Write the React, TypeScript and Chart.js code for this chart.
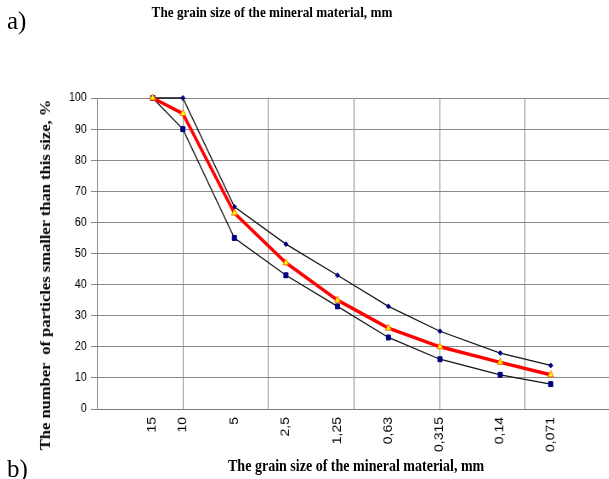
import React, { useEffect, useRef } from "react";
import { Chart, registerables } from "chart.js";

Chart.register(...registerables);

// ---- data ----
const sizes = [15, 10, 5, 2.5, 1.25, 0.63, 0.315, 0.14, 0.071];
const sizeLabels = ["15", "10", "5", "2,5", "1,25", "0,63", "0,315", "0,14", "0,071"];
const upperCurve = [100, 100, 65, 53, 43, 33, 25, 18, 14];
const middleCurve = [100, 95, 63, 47, 35, 26, 20, 15, 11];
const lowerCurve = [100, 90, 55, 43, 33, 23, 16, 11, 8];
const gridExponents = [-1, -0.5, 0, 0.5, 1];
const xMinExp = -1.487;
const xMaxExp = 1.502;
const yTicksStep = 10;

const titleText = "The grain size of the mineral material, mm";
const xTitleText = "The grain size of the mineral material, mm";
const yTitleText = "The number  of particles smaller than this size, %";

const S = 0.85;
const W = Math.round(609 / S);
const H = 479;

const gridValues = gridExponents.map((e) => Math.pow(10, e));
const near = (a: number, b: number) => Math.abs(a - b) / Math.max(Math.abs(b), 1e-9) < 1e-6;
const allTickValues = Array.from(
  new Set([...gridValues, ...sizes.filter((s) => !gridValues.some((g) => near(g, s)))])
).sort((a, b) => a - b);

const toPoints = (vals: number[]) => sizes.map((s, i) => ({ x: s, y: vals[i] }));

export default function App() {
  const ref = useRef<HTMLCanvasElement | null>(null);

  useEffect(() => {
    if (!ref.current) return;
    const chart = new Chart(ref.current, {
      type: "line",
      data: {
        datasets: [
          {
            label: "middle",
            data: toPoints(middleCurve),
            borderColor: "#ff0000",
            borderWidth: 3.5,
            pointStyle: "triangle",
            pointRadius: 4,
            pointBackgroundColor: "#ffff00",
            pointBorderColor: "#ff6a00",
            pointBorderWidth: 1,
            order: 0,
            clip: false as any,
            tension: 0,
          },
          {
            label: "upper",
            data: toPoints(upperCurve),
            borderColor: "#111111",
            borderWidth: 1.3,
            pointStyle: "rectRot",
            pointRadius: 2.5,
            pointBackgroundColor: "#000080",
            pointBorderColor: "#000080",
            pointBorderWidth: 1,
            order: 1,
            clip: false as any,
            tension: 0,
          },
          {
            label: "lower",
            data: toPoints(lowerCurve),
            borderColor: "#111111",
            borderWidth: 1.3,
            pointStyle: "rect",
            pointRadius: 3.5,
            pointBackgroundColor: "#000080",
            pointBorderColor: "#000080",
            pointBorderWidth: 1,
            order: 2,
            clip: false as any,
            tension: 0,
          },
        ],
      },
      options: {
        responsive: false,
        animation: false,
        devicePixelRatio: 1,
        layout: { autoPadding: false, padding: { top: 98, right: 0, bottom: 0, left: 0 } },
        plugins: {
          legend: { display: false },
          tooltip: { enabled: false },
          title: { display: false },
        },
        scales: {
          x: {
            type: "logarithmic",
            reverse: true,
            min: Math.pow(10, xMinExp),
            max: Math.pow(10, xMaxExp),
            position: "bottom",
            afterBuildTicks: (scale: any) => {
              scale.ticks = allTickValues.map((v) => ({ value: v }));
            },
            afterFit: (scale: any) => {
              scale.height = 70;
              scale.paddingLeft = 0;
              scale.paddingRight = 0;
            },
            ticks: {
              autoSkip: false,
              minRotation: 90,
              maxRotation: 90,
              padding: 8,
              color: "#000",
              font: { family: "'Liberation Sans', Arial, sans-serif", size: 14 },
              callback: (value: any) => {
                const idx = sizes.findIndex((s) => near(s, Number(value)));
                return idx >= 0 ? sizeLabels[idx] : "";
              },
            },
            grid: {
              drawTicks: false,
              lineWidth: 1,
              color: (ctx: any) => {
                const v = ctx.tick ? ctx.tick.value : NaN;
                return gridValues.some((g) => near(g, v)) ? "#8a8a8a" : "rgba(0,0,0,0)";
              },
            },
            border: { display: true, color: "#7a7a7a", width: 1 },
          },
          y: {
            type: "linear",
            min: 0,
            max: 100,
            afterFit: (scale: any) => {
              scale.width = 114;
              scale.paddingTop = 0;
              scale.paddingBottom = 0;
            },
            ticks: {
              stepSize: yTicksStep,
              padding: 5,
              color: "#000",
              font: { family: "'Liberation Sans', Arial, sans-serif", size: 12.5 },
            },
            grid: {
              color: "#8a8a8a",
              lineWidth: 1,
              drawTicks: true,
              tickLength: 7,
            },
            border: { display: true, color: "#7a7a7a", width: 1 },
          },
        },
      } as any,
    });
    return () => chart.destroy();
  }, []);

  const serif = "'Liberation Serif', 'Times New Roman', serif";

  return (
    <div
      style={{
        position: "fixed",
        left: 0,
        top: 0,
        width: 609,
        height: 479,
        overflow: "hidden",
        background: "#fff",
      }}
    >
      <div
        style={{
          position: "absolute",
          left: 0,
          top: 0,
          width: W,
          height: H,
          transform: `scaleX(${S})`,
          transformOrigin: "0 0",
        }}
      >
        <canvas
          ref={ref}
          width={W}
          height={H}
          style={{ display: "block", width: W, height: H }}
        />
        <div
          style={{
            position: "absolute",
            left: 320,
            top: 4,
            transform: "translateX(-50%)",
            whiteSpace: "nowrap",
            font: `bold 15.5px ${serif}`,
            lineHeight: "16px",
            color: "#000",
          }}
        >
          {titleText}
        </div>
        <div
          style={{
            position: "absolute",
            left: 419,
            top: 457,
            transform: "translateX(-50%)",
            whiteSpace: "nowrap",
            font: `bold 16.5px ${serif}`,
            lineHeight: "17px",
            color: "#000",
          }}
        >
          {xTitleText}
        </div>
        <div
          style={{
            position: "absolute",
            left: 53,
            top: 275,
            transform: "translate(-50%, -50%) rotate(-90deg)",
            whiteSpace: "pre",
            font: `bold 16.5px ${serif}`,
            lineHeight: "17px",
            color: "#000",
          }}
        >
          {yTitleText}
        </div>
      </div>
      <div
        style={{
          position: "absolute",
          left: 7,
          top: 8,
          font: `25px ${serif}`,
          lineHeight: "25px",
          color: "#000",
        }}
      >
        a)
      </div>
      <div
        style={{
          position: "absolute",
          left: 7,
          top: 456,
          font: `25px ${serif}`,
          lineHeight: "25px",
          color: "#000",
        }}
      >
        b)
      </div>
    </div>
  );
}
